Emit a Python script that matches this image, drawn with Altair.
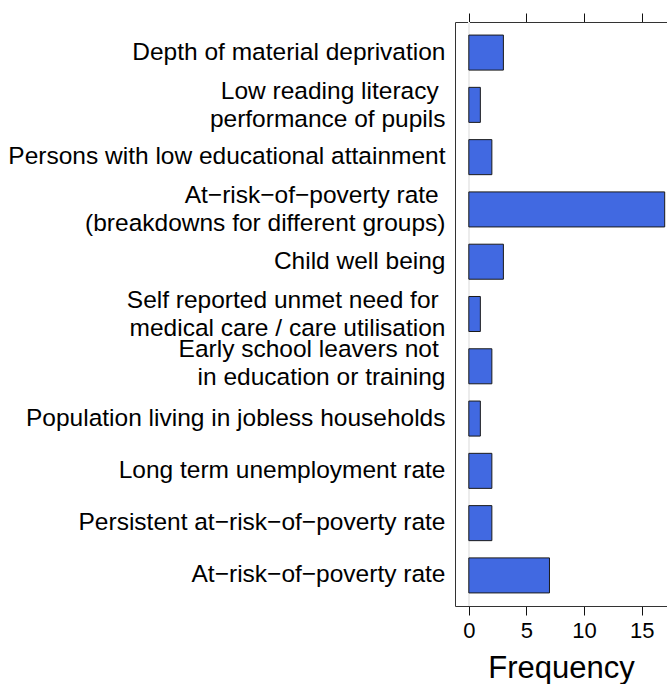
import altair as alt
import pandas as pd

# Indicators, top to bottom, and how often each was used.
# "\u00a0\u200b" keeps a visible trailing space on the first line of a label.
TRAIL = "\u00a0\u200b"
indicators = [
    "Depth of material deprivation",
    "Low reading literacy" + TRAIL + "\nperformance of pupils",
    "Persons with low educational attainment",
    "At\u2212risk\u2212of\u2212poverty rate" + TRAIL + "\n(breakdowns for different groups)",
    "Child well being",
    "Self reported unmet need for" + TRAIL + "\nmedical care / care utilisation",
    "Early school leavers not" + TRAIL + "\nin education or training",
    "Population living in jobless households",
    "Long term unemployment rate",
    "Persistent at\u2212risk\u2212of\u2212poverty rate",
    "At\u2212risk\u2212of\u2212poverty rate",
]
frequency = [3, 1, 2, 17, 3, 1, 2, 1, 2, 2, 7]
x_ticks = [0, 5, 10, 15]

# vertical shift of the first line of each two-line label
two_line_shift = [
    ("Low reading", -12.5),
    ("breakdowns", -13),
    ("Self reported", -13.5),
    ("Early school", -16),
]

df = pd.DataFrame({"indicator": indicators, "frequency": frequency})

FONT = "Liberation Sans"
LINE_H = 28
x_scale = alt.Scale(domain=[-1.2, 17.2], nice=False, zero=False)
y_scale = alt.Scale(paddingInner=0.33, paddingOuter=0.25)

y_enc = alt.Y(
    "indicator:N",
    sort=indicators,
    scale=y_scale,
    axis=alt.Axis(
        title=None,
        labelExpr="split(datum.label, '\\n')",
        labelFont=FONT,
        labelFontSize=24.5,
        labelColor="black",
        labelLineHeight=LINE_H,
        labelAlign="right",
        labelBaseline="middle",
        labelOffset={
            "condition": [
                {"test": f"indexof(datum.value, '{key}') >= 0", "value": shift}
                for key, shift in two_line_shift
            ],
            "value": 0,
        },
        labelPadding=10,
        labelLimit=0,
        ticks=False,
        domain=True,
        domainColor="#333333",
        domainWidth=1,
        grid=False,
    ),
)

bars = alt.Chart(df).mark_bar(
    color="#4169E1", stroke="#1a1a1a", strokeWidth=1
).encode(
    x=alt.X(
        "frequency:Q",
        scale=x_scale,
        axis=alt.Axis(
            orient="bottom",
            values=x_ticks,
            title="Frequency",
            titleFont=FONT,
            titleFontSize=31,
            titleFontWeight="normal",
            titleColor="black",
            titlePadding=12,
            labelFont=FONT,
            labelFontSize=22,
            labelColor="black",
            labelPadding=5,
            tickSize=9,
            tickColor="#111111",
            domainColor="#333333",
            grid=False,
        ),
    ),
    y=y_enc,
)

# faint baseline at zero plus the tick marks along the top edge
zero_line = alt.Chart(df).mark_rule(color="#ececec", strokeWidth=1).encode(
    x=alt.X(
        "z:Q",
        scale=x_scale,
        axis=alt.Axis(
            orient="top",
            values=x_ticks,
            title=None,
            labels=False,
            tickSize=9,
            tickColor="#111111",
            domainColor="#333333",
            grid=False,
        ),
    ),
).transform_calculate(z="0")

chart = (
    alt.layer(zero_line, bars)
    .resolve_axis(x="independent")
    .properties(
        width=212,
        height=584,
        padding={"left": 455, "top": 22, "right": 0, "bottom": 78},
        autosize=alt.AutoSizeParams(type="none"),
        background="white",
    )
    .configure_view(stroke=None)
)

chart.save("out.html", embed_options={"renderer": "svg", "actions": False})
